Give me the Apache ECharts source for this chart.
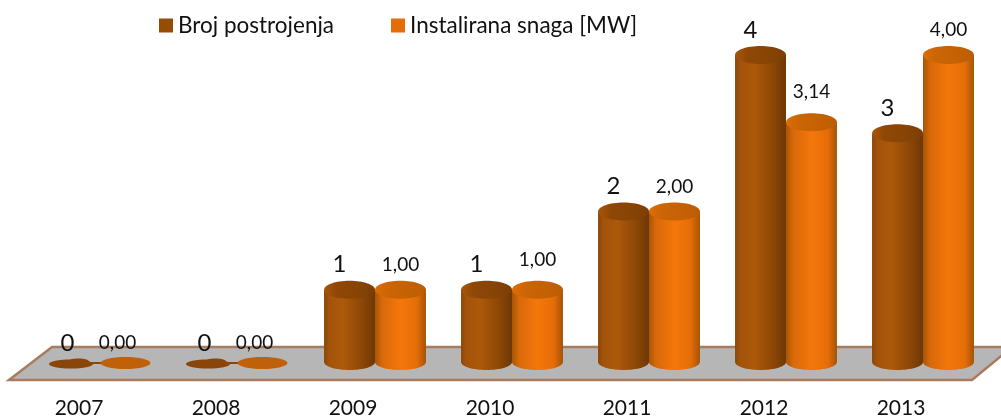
<!DOCTYPE html>
<html><head><meta charset="utf-8">
<style>html,body{margin:0;padding:0;background:#fff}#c{width:1001px;height:419px}</style>
<script src="https://cdn.jsdelivr.net/npm/echarts@6/dist/echarts.min.js"></script></head>
<body><div id="c"></div>
<script>
const years = ['2007','2008','2009','2010','2011','2012','2013'];
const brojPostrojenja = [0,0,1,1,2,4,3];
const instaliranaSnaga = [0,0,1,1,2,3.14,4];
const brojLabels = ['0','0','1','1','2','4','3'];
const snagaLabels = ['0,00','0,00','1,00','1,00','2,00','3,14','4,00'];

const FONT = 'Lato';
// extra label lift per year, purely cosmetic
const snagaLift = [0,0,0,5,0,5,0];
const noLift = [0,0,0,0,0,0,0];
const vg = (stops) => ({type:'linear',x:0,y:0,x2:1,y2:0,colorStops:stops.map(c=>({offset:c[0],color:c[1]}))});
const themes = {
  broj: {side: 0, body: vg([[0,'#8a4708'],[0.1,'#a3530a'],[0.38,'#ad590a'],[0.72,'#8f4806'],[1,'#6e3804']]),
         top: vg([[0,'#a8560a'],[0.25,'#8f4706'],[0.7,'#874305'],[1,'#7c3e05']]),
         zero:'#8a4508', labelSize:24, labelDx:-10, zeroDx:-8, lift:noLift, legend:'#974c05'},
  snaga:{side: 1, body: vg([[0,'#a95505'],[0.14,'#d8690a'],[0.5,'#f4770a'],[0.82,'#e56d08'],[1,'#a45306']]),
         top: vg([[0,'#dd6d06'],[0.25,'#cb6505'],[0.7,'#c46104'],[1,'#bb5c05']]),
         zero:'#c06008', labelSize:19, labelDx:0, zeroDx:-9, lift:snagaLift, legend:'#e46c0a'}
};
function cyl(theme, labels){
  return function(params, api){
    const i = api.value(0), v = api.value(1);
    const x0 = api.coord([i,0])[0], y0 = api.coord([i,0])[1];
    const yTop = api.coord([i,v])[1];
    const band = api.size([1,0])[0];
    const w = band*0.372, rx = w/2, ry = 9;
    const cx = x0 + (theme.side ? rx : -rx);
    const base = y0 - 6;
    const kids = [];
    if (v === 0){
      if (theme.side){
        kids.push({type:'ellipse',shape:{cx:cx-1,cy:base+1,rx:25,ry:6},style:{fill:theme.zero}});
      } else {
        kids.push({type:'ellipse',shape:{cx:cx-4.5,cy:base+2,rx:22,ry:4.5},style:{fill:theme.zero}});
        kids.push({type:'ellipse',shape:{cx:cx+3,cy:base,rx:11,ry:3.5},style:{fill:theme.zero}});
        kids.push({type:'rect',shape:{x:cx+12,y:base,width:16,height:2},style:{fill:theme.zero}});
      }
    } else {
      kids.push({type:'ellipse',shape:{cx,cy:base,rx,ry:8},style:{fill:theme.body}});
      kids.push({type:'rect',shape:{x:cx-rx,y:yTop,width:w,height:base-yTop},style:{fill:theme.body}});
      kids.push({type:'ellipse',shape:{cx,cy:yTop,rx,ry},style:{fill:theme.top}});
    }
    kids.push({type:'text',style:{text:labels[i],x:cx+(v===0?theme.zeroDx:theme.labelDx),y:yTop-25-theme.lift[i],
      align:'center',verticalAlign:'middle',font:theme.labelSize+'px '+FONT,fill:'#111'}});
    return {type:'group',children:kids};
  };
}
const chart = echarts.init(document.getElementById('c'),null,{renderer:'canvas'});
chart.setOption({
  animation:false,
  backgroundColor:'#fff',
  textStyle:{fontFamily:FONT},
  legend:{left:159,top:14,padding:0,itemWidth:14,itemHeight:14,itemGap:57,icon:'rect',
    textStyle:{fontSize:22.5,color:'#111',fontFamily:FONT}},
  grid:{left:32.5,right:9.5,top:55,bottom:51,containLabel:false},
  xAxis:{type:'category',data:years,axisTick:{show:false},axisLine:{show:false},
    axisLabel:{fontSize:21,color:'#111',fontFamily:FONT,margin:30,padding:[0,44,0,0]}},
  yAxis:{type:'value',min:0,max:4,interval:1,show:false,splitLine:{show:false}},
  graphic:{elements:[{type:'polygon',z:0,silent:true,shape:{points:[[9,380],[52,347],[1012,347],[972,380]]},
    style:{fill:'#b6b6b6',stroke:'#a87c5f',lineWidth:2.5}}]},
  series:[
    {type:'custom',name:'Broj postrojenja',z:3,itemStyle:{color:themes.broj.legend},renderItem:cyl(themes.broj,brojLabels),
      data:brojPostrojenja.map((v,i)=>[i,v]),encode:{x:0,y:1},clip:false},
    {type:'custom',name:'Instalirana snaga [MW]',z:4,itemStyle:{color:themes.snaga.legend},renderItem:cyl(themes.snaga,snagaLabels),
      data:instaliranaSnaga.map((v,i)=>[i,v]),encode:{x:0,y:1},clip:false}
  ]
});
</script></body></html>
